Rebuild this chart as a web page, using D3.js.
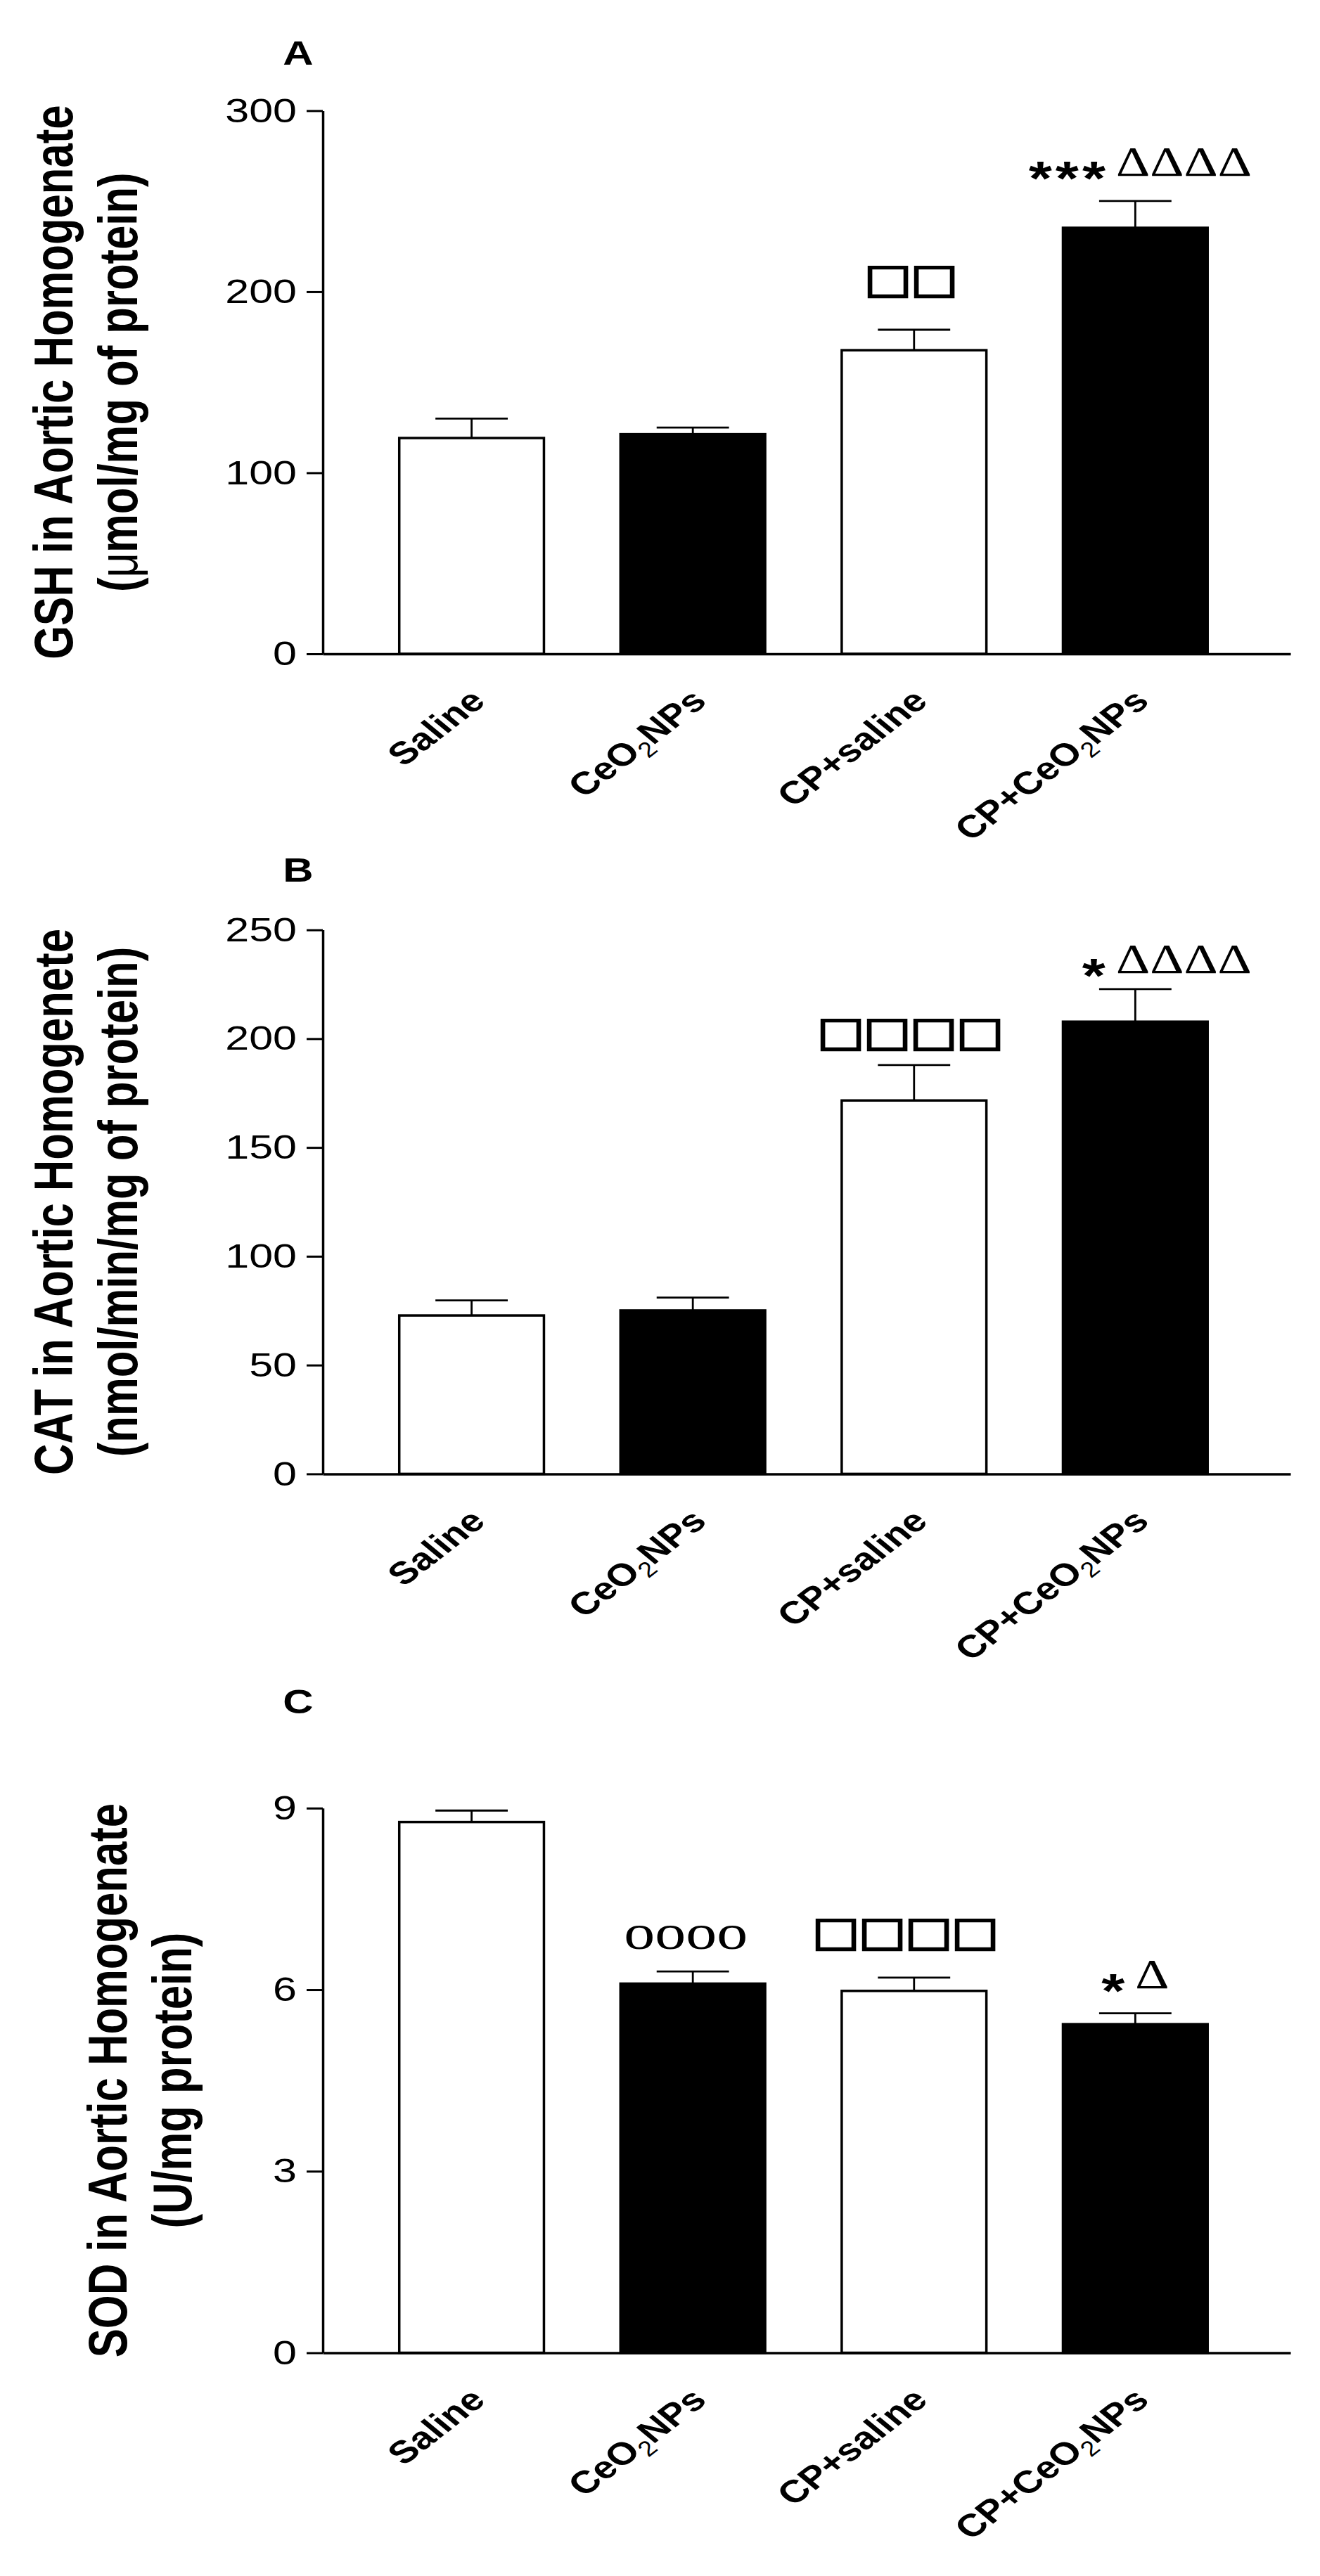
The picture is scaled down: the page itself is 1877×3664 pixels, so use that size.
<!DOCTYPE html>
<html>
<head>
<meta charset="utf-8">
<script src="https://cdn.jsdelivr.net/npm/d3@7"></script>
<style>
  body { margin: 0; background: #fff; }
  svg { display: block; }
</style>
</head>
<body>
<div id="chart"></div>
<script>
// groups on the x axis (the "2" is drawn as a subscript)
let groups = ["Saline", "CeO2NPs", "CP+saline", "CP+CeO2NPs"];

// panel A - GSH (mean and SEM)
let gshMean = [119.2, 121.3, 167.7, 235.3];
let gshSem = [10.7, 3.7, 11.3, 14.8];
let gshTicks = [0, 100, 200, 300];
let gshMarks = ["", "", "□□", "***ΔΔΔΔ"];

// panel B - CAT
let catMean = [72.8, 75.1, 171.6, 207.8];
let catSem = [6.9, 5.9, 16.3, 15.0];
let catTicks = [0, 50, 100, 150, 200, 250];
let catMarks = ["", "", "□□□□", "*ΔΔΔΔ"];

// panel C - SOD
let sodMean = [8.77, 6.10, 5.98, 5.43];
let sodSem = [0.19, 0.20, 0.22, 0.18];
let sodTicks = [0, 3, 6, 9];
let sodMarks = ["", "oooo", "□□□□", "*Δ"];

// svg size and look
let svgWidth = 1877;
let svgHeight = 3664;
let squash = 0.8;   // the figure is a little flattened vertically
let sans = "'Liberation Sans', Arial, sans-serif";
let serif = "'Liberation Serif', 'Times New Roman', serif";
let barFill = ["#fff", "#000", "#fff", "#000"];

// panel layout (mark gaps / shifts are in pixels, per group)
let panels = [
  { letter: "A", letterY: 92, top: 157.4, bottom: 930,
    mean: gshMean, sem: gshSem, ticks: gshTicks, marks: gshMarks,
    title: ["GSH in Aortic Homogenate", "(μmol/mg of protein)"], titleX: [103, 195],
    markGap: [0, 0, 47, 36], markDx: [0, 0, -5, 7] },
  { letter: "B", letterY: 1254, top: 1322.6, bottom: 2096.4,
    mean: catMean, sem: catSem, ticks: catTicks, marks: catMarks,
    title: ["CAT in Aortic Homogenete", "(nmol/min/mg of protein)"], titleX: [103, 195],
    markGap: [0, 0, 21, 23], markDx: [0, 0, -6, 45] },
  { letter: "C", letterY: 2437, top: 2571.8, bottom: 3346.5,
    mean: sodMean, sem: sodSem, ticks: sodTicks, marks: sodMarks,
    title: ["SOD in Aortic Homogenate", "(U/mg protein)"], titleX: [180, 272],
    markGap: [0, 32, 39, 36], markDx: [0, -10, -13, 0] }
];

// how each annotation glyph is drawn
let markStyle = {
  "*": { family: sans, weight: "bold", size: 85, shift: 34, spacing: 5, stroke: 0 },
  "Δ": { family: serif, weight: "normal", size: 75, shift: 0, spacing: 0, stroke: 0 },
  "□": { family: "'DejaVu Sans', sans-serif", weight: "normal", size: 72, shift: -8, spacing: -2, stroke: 2.6 },
  "o": { family: serif, weight: "normal", size: 88, shift: 0, spacing: 0, stroke: 0 }
};

let svg = d3.select("#chart")
  .append("svg")
  .attr("width", svgWidth)
  .attr("height", svgHeight)
  .style("background", "#fff");

let xScale = d3.scaleBand()
  .domain(groups)
  .range([459, 1835])
  .paddingInner(0.346)
  .paddingOuter(0.36)
  .align(0.48);

let bw = xScale.bandwidth();

// writes a label, drawing every "2" as a subscript
function addLabel(sel, text) {
  let parts = text.split("2");
  parts.forEach(function(part, i) {
    if (i > 0) {
      sel.append("tspan").text("2")
        .attr("fill", "#000")
        .attr("font-size", 38).attr("font-weight", "normal").attr("dy", 12);
    }
    if (part) {
      sel.append("tspan").text(part).attr("fill", "#000").attr("dy", i > 0 ? -12 : 0);
    }
  });
}

panels.forEach(function(p) {
  let yScale = d3.scaleLinear()
    .domain([0, d3.max(p.ticks)])
    .range([p.bottom, p.top]);

  let chartGroup = svg.append("g");

  // panel letter
  chartGroup.append("text")
    .attr("transform", `translate(424, ${p.letterY}) scale(1, ${squash})`)
    .attr("text-anchor", "middle")
    .attr("font-family", sans)
    .attr("font-weight", "bold")
    .attr("font-size", 60)
    .text(p.letter);

  // y title, two lines
  let midY = (p.top + p.bottom) / 2;
  p.title.forEach(function(line, i) {
    let t = chartGroup.append("text")
      .attr("transform", `translate(${p.titleX[i]}, ${midY}) scale(1, ${squash}) rotate(-90)`)
      .attr("text-anchor", "middle")
      .attr("font-family", sans)
      .attr("font-weight", "bold")
      .attr("font-size", 77);
    line.split(/(μ)/).forEach(function(part) {
      if (!part) return;
      let ts = t.append("tspan").text(part);
      if (part === "μ") ts.attr("font-weight", "normal");
    });
  });

  // bars
  chartGroup.selectAll(".bar")
    .data(p.mean)
    .join("rect")
    .attr("x", (d, i) => xScale(groups[i]))
    .attr("y", d => yScale(d))
    .attr("width", bw)
    .attr("height", d => p.bottom - yScale(d))
    .attr("fill", (d, i) => barFill[i])
    .attr("stroke", "#000")
    .attr("stroke-width", 3.5);

  // error bars (upper only)
  p.mean.forEach(function(m, i) {
    let cx = xScale(groups[i]) + bw / 2;
    let yTop = yScale(m + p.sem[i]);
    chartGroup.append("line")
      .attr("x1", cx).attr("x2", cx)
      .attr("y1", yScale(m)).attr("y2", yTop)
      .attr("stroke", "#000").attr("stroke-width", 2.8);
    chartGroup.append("line")
      .attr("x1", cx - bw / 4).attr("x2", cx + bw / 4)
      .attr("y1", yTop).attr("y2", yTop)
      .attr("stroke", "#000").attr("stroke-width", 2.8);

    // significance marks
    let mark = p.marks[i];
    if (!mark) return;
    let t = chartGroup.append("text")
      .attr("transform", `translate(${cx + p.markDx[i]}, ${yTop - p.markGap[i]}) scale(1, ${squash})`)
      .attr("text-anchor", "middle")
      .attr("fill", "#000");
    let runs = mark.match(/(.)\1*/g);
    let lastShift = 0;
    runs.forEach(function(run, k) {
      let st = markStyle[run[0]];
      let ts = t.append("tspan")
        .text(run)
        .attr("font-family", st.family)
        .attr("font-weight", st.weight)
        .attr("font-size", st.size)
        .attr("letter-spacing", st.spacing)
        .attr("dx", k > 0 ? 10 : 0)
        .attr("dy", st.shift - lastShift);
      if (st.stroke) ts.attr("stroke", "#000").attr("stroke-width", st.stroke);
      lastShift = st.shift;
    });
  });

  // y axis
  let leftAxis = d3.axisLeft(yScale)
    .tickValues(p.ticks)
    .tickSize(23)
    .tickSizeOuter(0)
    .tickPadding(14);

  let yAxisG = chartGroup.append("g")
    .attr("transform", `translate(${xScale.range()[0]}, 0)`)
    .call(leftAxis);
  yAxisG.select(".domain").attr("stroke-width", 3.5);
  yAxisG.selectAll(".tick line").attr("stroke-width", 3);
  yAxisG.selectAll(".tick text")
    .attr("font-family", sans)
    .attr("font-size", 61)
    .attr("fill", "#000")
    .attr("transform", `scale(1, ${squash})`);

  // x axis line, no ticks
  let bottomAxis = d3.axisBottom(xScale).tickSize(0).tickSizeOuter(0);
  let xAxisG = chartGroup.append("g")
    .attr("transform", `translate(0, ${p.bottom})`)
    .call(bottomAxis);
  xAxisG.select(".domain").attr("stroke-width", 3.5);
  xAxisG.selectAll(".tick").remove();

  // rotated group labels
  groups.forEach(function(gname) {
    let cx = xScale(gname) + bw / 2;
    let t = chartGroup.append("text")
      .attr("transform", `translate(${cx + 22}, ${p.bottom + 70}) scale(1, ${squash}) rotate(-44)`)
      .attr("text-anchor", "end")
      .attr("font-family", sans)
      .attr("font-weight", "bold")
      .attr("font-size", 56)
      .attr("fill", "#000");
    addLabel(t, gname);
  });
});
</script>
</body>
</html>
